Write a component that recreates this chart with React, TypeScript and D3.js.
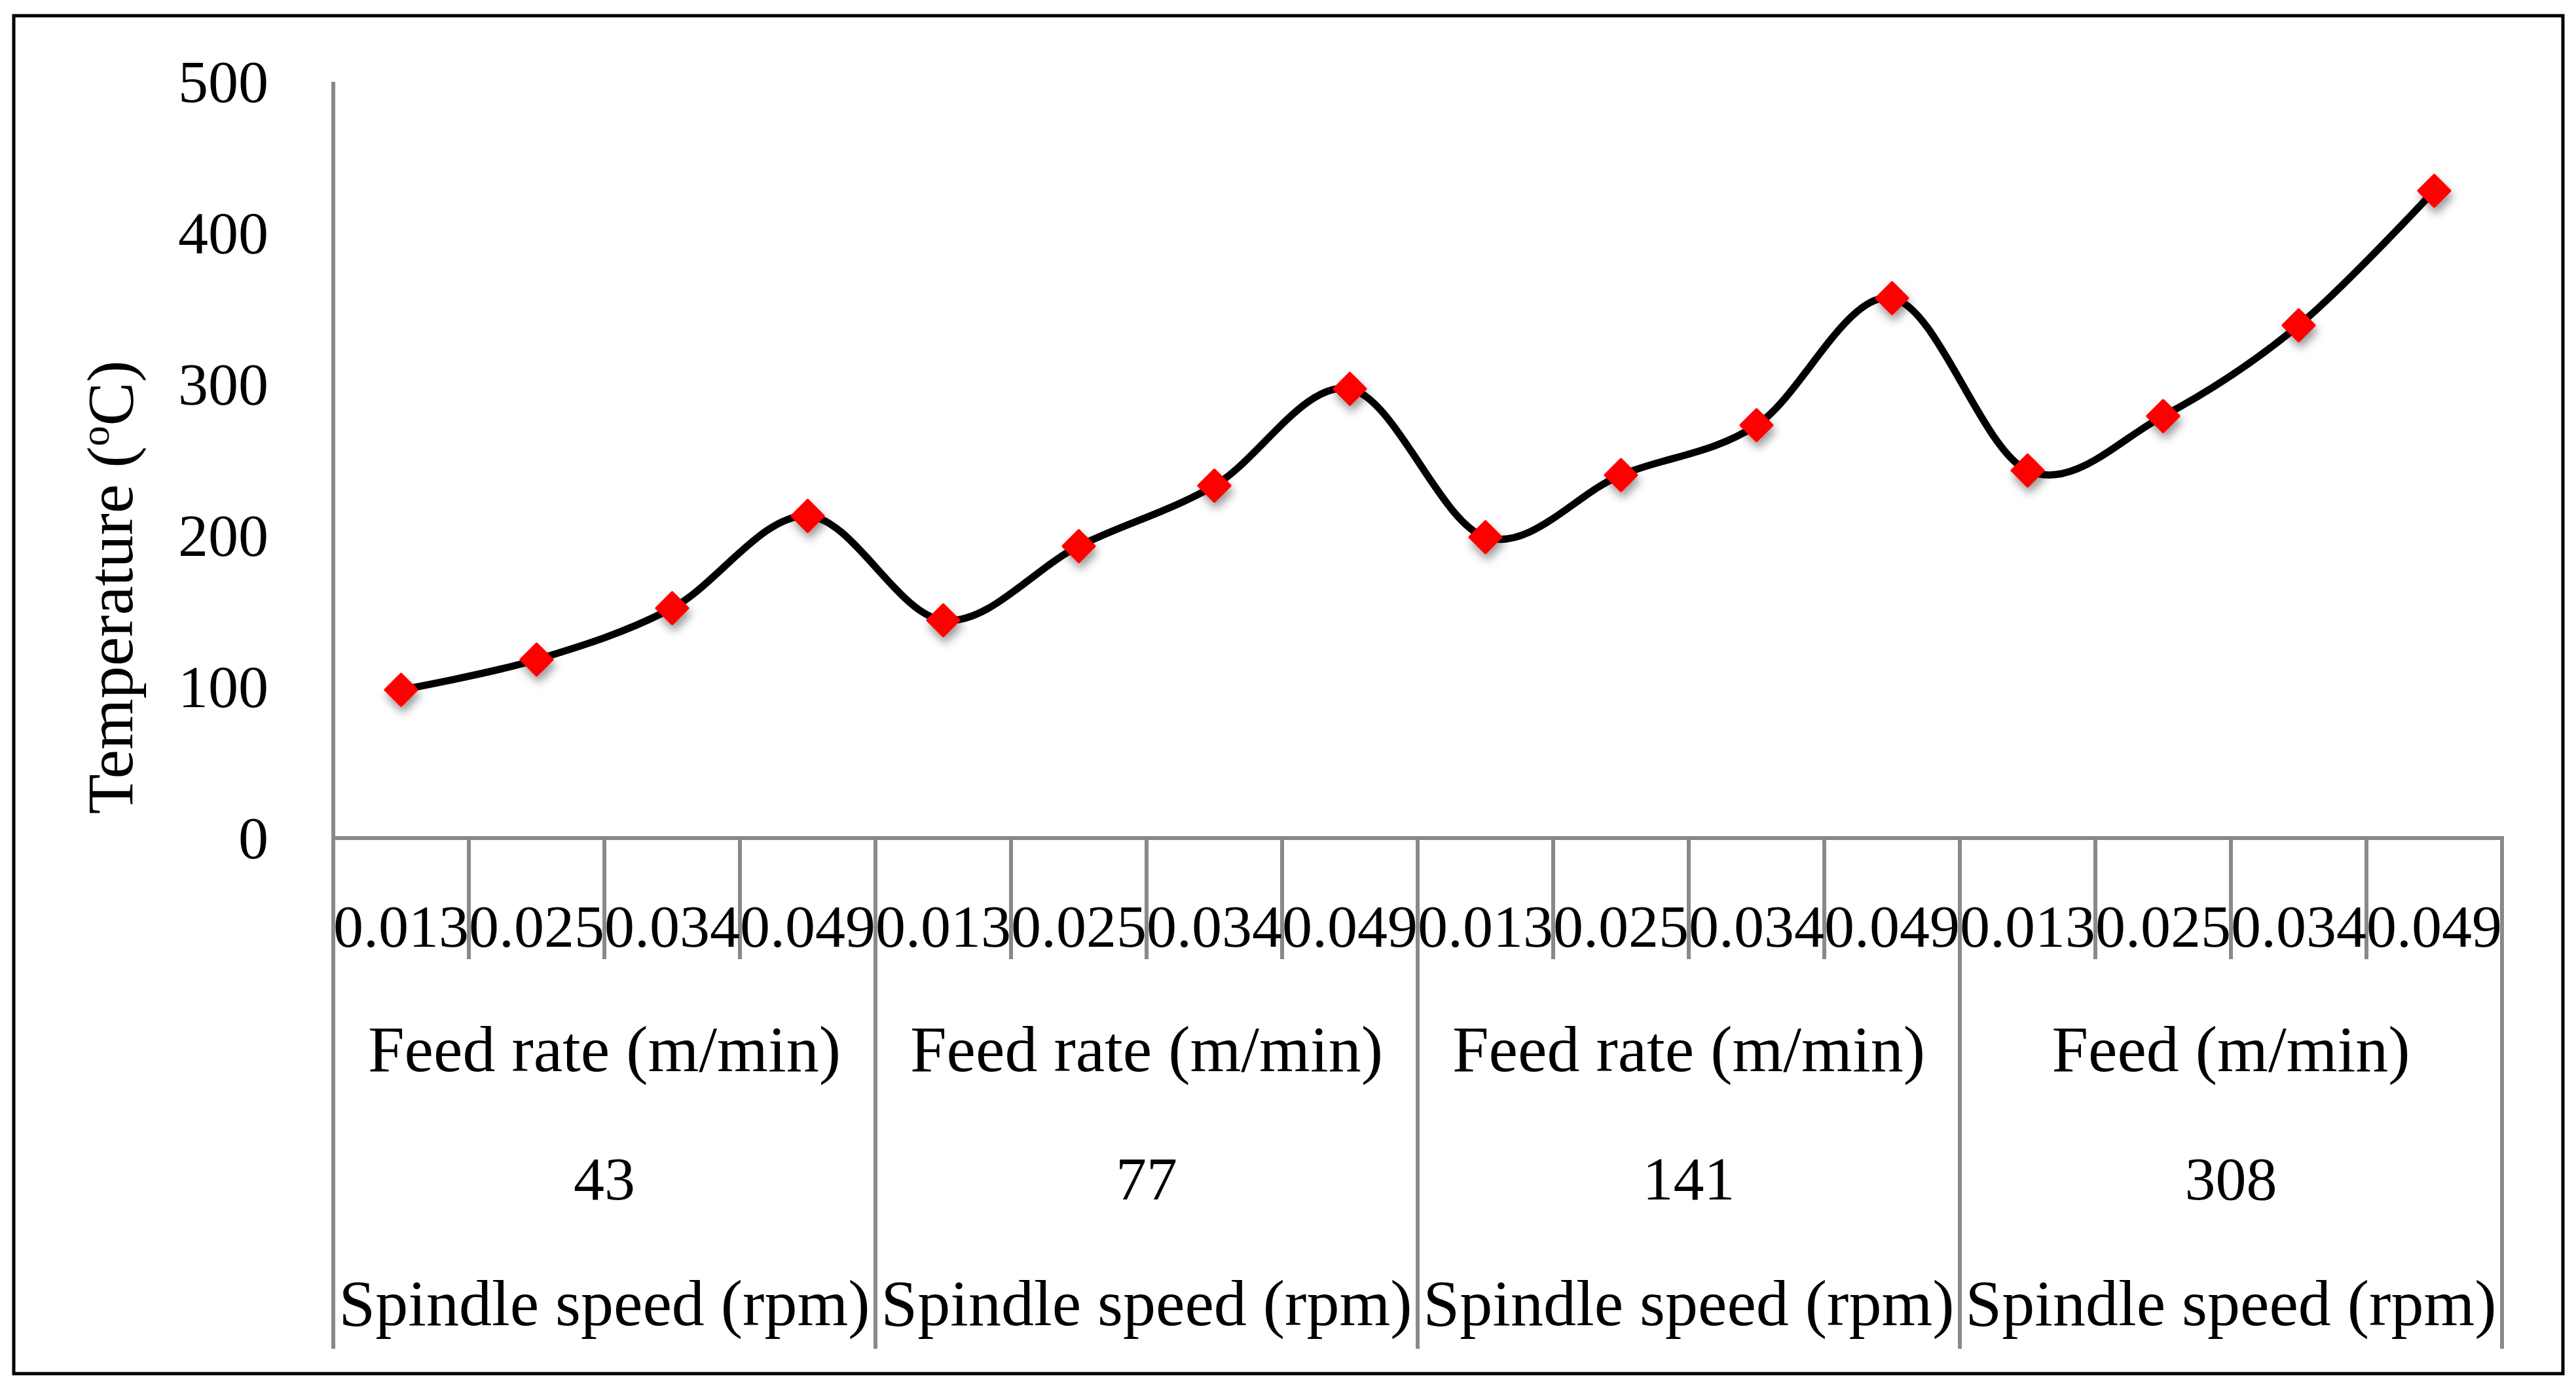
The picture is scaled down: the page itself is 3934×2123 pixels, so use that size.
import React from "react";
import * as d3 from "d3";

const feedRates = ["0.013", "0.025", "0.034", "0.049"];
const spindleSpeeds = ["43", "77", "141", "308"];
const groupFeedLabels = ["Feed rate (m/min)", "Feed rate (m/min)", "Feed rate (m/min)", "Feed (m/min)"];
const spindleLabel = "Spindle speed (rpm)";
const temperatures = [98, 118, 152, 213, 144, 193, 233, 297, 199, 240, 273, 357, 243, 279, 339, 428];
const yTicks = [0, 100, 200, 300, 400, 500];

const W = 3934;
const H = 2123;
const FONT = "'Liberation Serif', 'Times New Roman', serif";

export default function App() {
  const left = 509;
  const right = 3821;
  const top = 125;
  const bottom = 1280;

  const categories = spindleSpeeds.flatMap((s, gi) => feedRates.map((f, fi) => ({ key: `${gi}-${fi}`, feed: f, group: gi })));

  const x = d3
    .scaleBand<string>()
    .domain(categories.map((c) => c.key))
    .range([left, right])
    .paddingInner(0)
    .paddingOuter(0);
  const y = d3.scaleLinear().domain([0, 500]).range([bottom, top]);

  const pts: [number, number][] = temperatures.map((t, i) => [x(categories[i].key)! + x.bandwidth() / 2, y(t)]);
  const lineGen = d3.line().curve(d3.curveCardinal.tension(0));
  const pathD = lineGen(pts) || "";

  const gray = "#898989";
  const band = x.bandwidth();
  const groupWidth = band * feedRates.length;

  return (
    <svg
      width={W}
      height={H}
      viewBox={`0 0 ${W} ${H}`}
      style={{ position: "absolute", left: 0, top: 0, background: "#fff" }}
      fontFamily={FONT}
    >
      <defs>
        <filter id="shadow" x="-100%" y="-100%" width="300%" height="300%">
          <feDropShadow dx="3" dy="9" stdDeviation="7" floodColor="#000" floodOpacity="0.4" />
        </filter>
      </defs>
      <rect x={0} y={0} width={W} height={H} fill="#fff" />
      <rect x={21} y={24} width={3893} height={2074} fill="none" stroke="#000" strokeWidth={5} />

      {/* y axis */}
      <line x1={left} x2={left} y1={top} y2={bottom} stroke={gray} strokeWidth={6} />
      {yTicks.map((t) => (
        <text key={t} x={410} y={y(t) + 31} textAnchor="end" fontSize={92} fill="#000">
          {t}
        </text>
      ))}
      <text
        transform={`translate(202, 897) rotate(-90)`}
        textAnchor="middle"
        fontSize={100}
        fill="#000"
      >
        Temperature (<tspan fontSize={62} dy={-36}>o</tspan>
        <tspan dy={36}>C)</tspan>
      </text>

      {/* x axis */}
      <line x1={left - 3} x2={right + 3} y1={bottom} y2={bottom} stroke={gray} strokeWidth={6} />
      {d3.range(categories.length + 1).map((i) => {
        const xx = left + i * band;
        const isGroup = i % feedRates.length === 0;
        return (
          <line key={i} x1={xx} x2={xx} y1={bottom} y2={isGroup ? 2060 : 1465} stroke={gray} strokeWidth={6} />
        );
      })}
      {categories.map((c) => (
        <text key={c.key} x={x(c.key)! + band / 2} y={1446} textAnchor="middle" fontSize={92} fill="#000">
          {c.feed}
        </text>
      ))}
      {spindleSpeeds.map((s, gi) => {
        const cx = left + gi * groupWidth + groupWidth / 2;
        return (
          <g key={s}>
            <text x={cx} y={1636} textAnchor="middle" fontSize={100} fill="#000">
              {groupFeedLabels[gi]}
            </text>
            <text x={cx} y={1832} textAnchor="middle" fontSize={94} fill="#000">
              {s}
            </text>
            <text x={cx} y={2024} textAnchor="middle" fontSize={100} fill="#000">
              {spindleLabel}
            </text>
          </g>
        );
      })}

      {/* series */}
      <path d={pathD} fill="none" stroke="#000" strokeWidth={11} strokeLinejoin="round" strokeLinecap="round" />
      <g filter="url(#shadow)">
        {pts.map(([px, py], i) => (
          <path
            key={i}
            transform={`translate(${px},${py})`}
            d="M0,-24L24,0L0,24L-24,0Z"
            fill="#ff0000"
            stroke="#ff0000"
            strokeWidth={4}
            strokeLinejoin="round"
          />
        ))}
      </g>
    </svg>
  );
}
